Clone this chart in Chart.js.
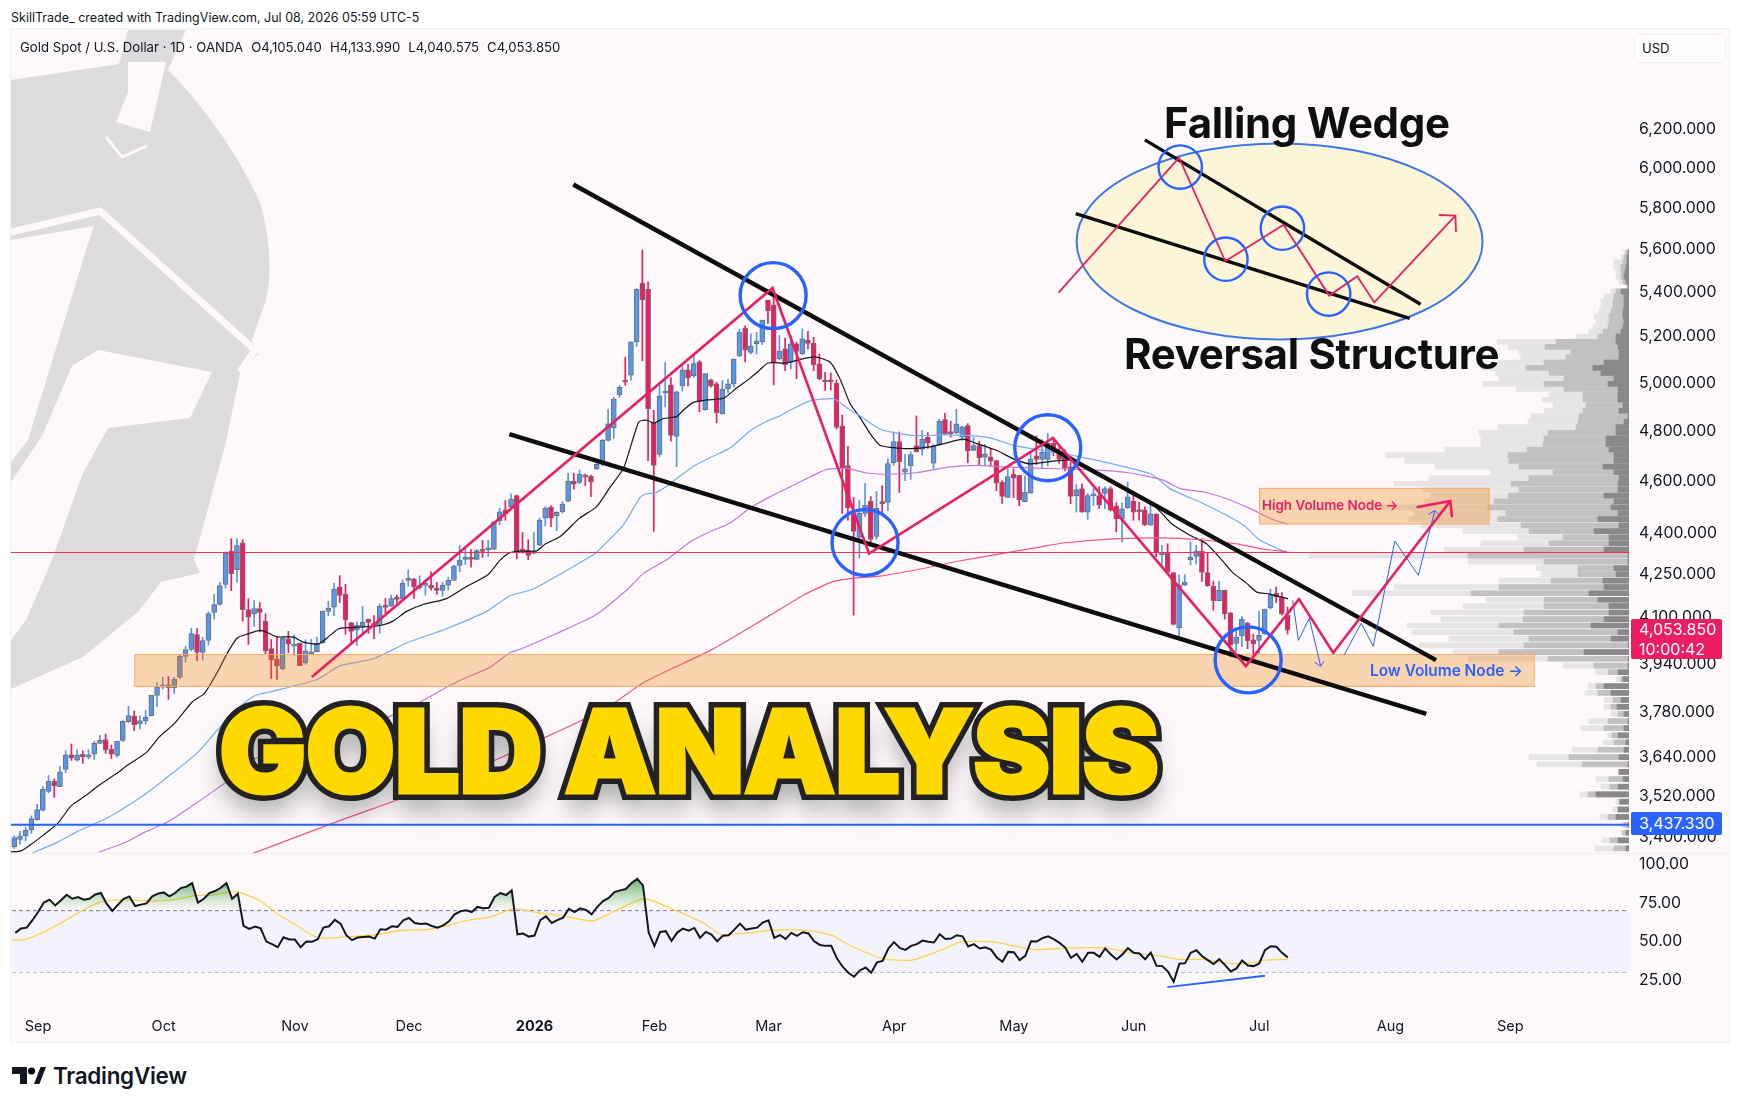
<!DOCTYPE html>
<html>
<head>
<meta charset="utf-8">
<title>Gold Analysis</title>
<script src="https://cdn.jsdelivr.net/npm/chart.js@4"></script>
<style>
    html, body { margin: 0; padding: 0; background: #ffffff; }
    body { width: 1738px; height: 1108px; position: relative; overflow: hidden; font-family: Inter, sans-serif; color: #131722; }
    #pane { position: absolute; left: 11px; top: 29px; width: 1718px; height: 1013px; background: #fdf9fb; box-shadow: 0 0 0 1px #f0f0f0; }
    #helmet { position: absolute; left: 0; top: 0; }
    canvas { position: absolute; left: 11px; }
    #mainChart { top: 29px; }
    #rsiChart { top: 854px; border-top: 0; }
    #split { position: absolute; left: 11px; top: 853px; width: 1718px; height: 1px; background: #efedee; }
    .label { position: absolute; white-space: nowrap; transform: translateY(-50%); line-height: 1; }
    .label span { margin-left: 8px; }
    .big { font-weight: 700; color: #0f0f0f; font-size: 42px; letter-spacing: -0.3px; }
    .tag { position: absolute; left: 1631px; width: 91px; color: #fff; font-size: 16px; box-sizing: border-box; padding-left: 8px; border-radius: 2px; }
    #gold, #gold::after { font-family: Inter, sans-serif; font-weight: 900; font-size: 116px; line-height: 106px; letter-spacing: -1px; white-space: nowrap; }
    #gold { position: absolute; left: 219px; top: 698px; color: #222222; -webkit-text-stroke: 14px #222222; text-shadow: 0 16px 26px rgba(0,0,0,0.38); }
    #gold::after { content: attr(data-text); position: absolute; left: 0; top: 0; color: #ffd900; -webkit-text-stroke: 3px #ffd900; text-shadow: none; }
    #usd { position: absolute; left: 1634px; top: 34px; width: 92px; height: 29px; border: 1px solid #f0eef0; border-radius: 5px; box-sizing: border-box; background: #fefcfd; font-size: 13px; line-height: 27px; padding-left: 7px; }
</style>
</head>
<body>
<div id="pane"></div>
<svg id="helmet" width="1738" height="1108" viewBox="0 0 1738 1108">
    <defs><clipPath id="paneClip"><rect x="11" y="30" width="1618" height="823"/></clipPath></defs>
    <g clip-path="url(#paneClip)">
        <path fill="#dedbde" d="M11,80 L119,64 L128,30 L186,30 L168,70 L178,80 Q232,140 261,205 Q275,260 266,300 L252,340 L258,354 L240,374 L225,446 L194,560 L200,573 L161,582 L139,611 L83,657 L11,689 Z"/>
        <path fill="#fdf9fb" d="M128,62 L166,62 L150,132 L116,122 L128,92 Z"/>
        <path fill="none" stroke="#fdf9fb" stroke-width="3" d="M106,137 L122,157 L147,146"/>
        <path fill="#fdf9fb" d="M11,240 L94,226 L86,250 L28,440 L11,462 Z"/>
        <path fill="none" stroke="#fdf9fb" stroke-width="7" d="M11,232 L100,211 L255,350 L240,372"/>
        <path fill="#fdf9fb" d="M72,366 L98,350 L212,372 L190,418 L108,428 L82,475 L52,560 L26,620 L11,640 L11,482 L42,436 Z"/>
    </g>
</svg>
<canvas id="mainChart" width="1718" height="825"></canvas>
<div id="split"></div>
<canvas id="rsiChart" width="1718" height="188"></canvas>

<div class="label" style="left:11px;top:17.5px;font-size:12.5px;">SkillTrade_ created with TradingView.com, Jul 08, 2026 05:59 UTC-5</div>
<div class="label" style="left:20px;top:48px;font-size:13.2px;">Gold Spot / U.S. Dollar · 1D · OANDA<span>O4,105.040</span><span>H4,133.990</span><span>L4,040.575</span><span>C4,053.850</span></div>
<div id="usd">USD</div>
<div class="label big" style="left:1164px;top:123px;">Falling Wedge</div>
<div class="label big" style="left:1124px;top:354px;">Reversal Structure</div>
<div class="label" style="left:1262px;top:506px;font-size:13.4px;font-weight:600;color:#e91e63;">High Volume Node →</div>
<div class="label" style="left:1370px;top:671px;font-size:15.4px;font-weight:600;color:#2962ff;">Low Volume Node →</div>
<div id="gold" data-text="GOLD ANALYSIS">GOLD ANALYSIS</div>
<div class="tag" style="top:619px;height:40px;background:#ec1e63;line-height:20px;">4,053.850<br>10:00:42</div>
<div class="tag" style="top:812px;height:23px;background:#2962ff;line-height:23px;">3,437.330</div>
<svg style="position:absolute;left:12px;top:1067px;" width="34" height="18" viewBox="0 0 34 18">
    <path fill="#131722" d="M0,0 H15 V17 H8 V7 H0 Z"/><circle cx="19.5" cy="4" r="3.6"/><path fill="#131722" d="M22,17 L28.5,0 H34 L27.5,17 Z"/>
</svg>
<div class="label" style="left:53px;top:1076px;font-size:22.5px;font-weight:600;letter-spacing:-0.3px;">TradingView</div>

<script>
// bar values, one per daily candle
const openPrices = [
    3374,3395,3405,3422,3452,3480,3536,3566,3550,3602,
    3647,3631,3649,3640,3649,3683,3695,3664,3645,3692,
    3751,3770,3744,3754,3770,3836,3863,3870,3860,3895,
    3965,3988,4039,3978,4019,4115,4143,4214,4335,4267,
    4366,4125,4111,4129,4085,3991,3957,3923,4024,3999,
    4010,3943,3973,3981,4010,4119,4134,4205,4180,4080,
    4054,4068,4092,4078,4071,4137,4137,4169,4162,4229,
    4233,4203,4211,4212,4201,4193,4212,4229,4283,4305,
    4309,4305,4341,4340,4342,4448,4490,4501,4544,4342,
    4339,4327,4357,4458,4500,4466,4482,4523,4599,4595,
    4622,4620,4647,4669,4762,4812,4949,5012,5033,5177,
    5441,5413,4832,4706,4957,4992,4778,4987,5056,5030,
    5090,4888,5013,4996,4871,4975,4996,5115,5238,5131,
    5168,5177,5364,5342,5102,5146,5087,5168,5124,5185,
    5171,5081,5013,5010,4999,4821,4661,4473,4386,4476,
    4522,4389,4516,4518,4673,4757,4635,4660,4741,4727,
    4775,4671,4744,4847,4797,4792,4775,4822,4722,4741,
    4695,4696,4681,4596,4537,4627,4623,4521,4553,4700,
    4686,4686,4750,4714,4705,4656,4544,4571,4481,4543,
    4544,4552,4571,4505,4455,4497,4523,4485,4490,4432,
    4474,4322,4327,4257,4062,4212,4304,4316,4335,4257,
    4208,4157,4193,4114,4009,4034,4078,4021,4019,4040,
    4131,4183,4169,4105.04
];
const highPrices = [
    3405,3418,3430,3463,3497,3550,3584,3573,3612,3660,
    3681,3663,3660,3663,3690,3708,3712,3678,3690,3754,
    3801,3785,3770,3788,3836,3877,3896,3898,3895,3971,
    3999,4060,4060,4030,4117,4179,4222,4332,4381,4381,
    4377,4164,4157,4150,4111,4022,4031,4031,4050,4037,
    4010,4021,4023,4030,4120,4154,4218,4246,4215,4080,
    4083,4137,4092,4104,4145,4164,4176,4176,4230,4266,
    4236,4245,4230,4260,4222,4223,4240,4284,4356,4345,
    4341,4341,4375,4375,4444,4496,4525,4551,4546,4404,
    4377,4404,4458,4502,4506,4483,4521,4631,4631,4644,
    4628,4624,4687,4766,4889,4939,4989,5109,5177,5416,
    5597,5447,4885,4989,5088,5022,4965,5082,5079,5117,
    5095,5039,5016,5003,5010,5016,5102,5233,5248,5212,
    5219,5273,5364,5375,5205,5193,5205,5175,5234,5223,
    5197,5124,5045,5042,5013,4865,4738,4537,4527,4592,
    4540,4560,4582,4688,4796,4796,4706,4716,4862,4803,
    4794,4746,4848,4872,4840,4889,4820,4830,4775,4758,
    4746,4730,4682,4602,4649,4649,4623,4620,4716,4780,
    4765,4790,4775,4735,4725,4675,4587,4590,4552,4571,
    4578,4578,4578,4517,4516,4596,4559,4519,4501,4513,
    4474,4356,4362,4257,4249,4249,4370,4356,4380,4328,
    4225,4225,4194,4116,4061,4101,4081,4040,4120,4127,
    4197,4205,4185,4133.99
];
const lowPrices = [
    3369,3381,3391,3412,3450,3477,3531,3518,3550,3592,
    3630,3628,3621,3635,3633,3682,3652,3635,3640,3688,
    3749,3723,3728,3743,3769,3800,3856,3823,3842,3891,
    3945,3983,3950,3952,4003,4092,4141,4201,4192,4222,
    4085,4005,4067,4048,3974,3891,3888,3919,3977,3968,
    3934,3938,3971,3980,4009,4104,4104,4150,4040,4010,
    4002,4037,4043,4025,4043,4113,4136,4148,4157,4208,
    4165,4196,4176,4194,4179,4173,4194,4228,4260,4286,
    4276,4303,4312,4316,4341,4432,4450,4498,4306,4328,
    4304,4326,4355,4429,4426,4411,4477,4520,4569,4590,
    4583,4540,4646,4660,4759,4770,4939,4989,5010,5157,
    5095,4681,4408,4696,4899,4759,4657,4965,4987,5023,
    4878,4885,4982,4833,4869,4958,4982,5112,5090,5124,
    5124,5165,5258,4992,5098,5052,5060,5017,5121,5146,
    5052,5013,4968,4970,4808,4476,4450,4106,4309,4464,
    4354,4378,4476,4486,4662,4556,4602,4607,4715,4703,
    4730,4649,4741,4786,4775,4789,4762,4672,4721,4664,
    4661,4659,4563,4514,4536,4536,4505,4520,4553,4665,
    4650,4660,4700,4670,4640,4513,4481,4481,4453,4506,
    4494,4494,4485,4406,4369,4494,4450,4450,4430,4430,
    4314,4278,4253,4072,4027,4210,4284,4288,4225,4207,
    4123,4156,4092,3964,3981,3998,3991,3964,3973,4040,
    4127,4150,4106,4040.575
];
const closePrices = [
    3400,3405,3422,3455,3482,3542,3566,3553,3595,3647,
    3638,3647,3641,3647,3683,3692,3663,3649,3690,3752,
    3771,3742,3755,3765,3836,3863,3870,3860,3888,3965,
    3988,4042,3978,4018,4111,4143,4210,4328,4253,4355,
    4125,4099,4129,4115,3983,3953,3933,4026,4006,4006,
    3934,3983,3980,4008,4120,4131,4198,4175,4089,4050,
    4071,4081,4081,4069,4137,4133,4164,4161,4218,4233,
    4206,4206,4212,4201,4193,4212,4229,4280,4302,4308,
    4305,4337,4334,4342,4444,4482,4475,4531,4328,4336,
    4319,4331,4451,4496,4458,4480,4511,4600,4588,4627,
    4616,4596,4666,4762,4829,4932,4981,5003,5177,5413,
    5364,4892,4662,4945,4962,4782,4962,5056,5021,5082,
    4920,5039,4987,4875,4974,4996,5102,5220,5141,5158,
    5181,5273,5314,5085,5137,5078,5168,5135,5190,5170,
    5077,5017,5004,5004,4815,4649,4497,4408,4476,4507,
    4378,4495,4513,4669,4757,4677,4648,4705,4717,4767,
    4751,4741,4839,4789,4789,4829,4817,4720,4741,4692,
    4708,4679,4592,4541,4618,4612,4527,4557,4687,4686,
    4714,4750,4714,4686,4650,4541,4567,4481,4544,4544,
    4508,4571,4488,4455,4493,4539,4481,4483,4432,4474,
    4328,4326,4258,4074,4213,4223,4312,4335,4257,4210,
    4157,4193,4110,4003,4030,4092,4017,4007,4036,4127,
    4178,4169,4110,4053.85
];

// moving averages, sampled at the bends
const maBlackBars = [-0.6,1.2,2.9,5.3,7.6,9.9,12.3,14.9,18.1,19.8,23.1,25.4,28,31.2,33.3,35.6,37.4,39.1,40.9,43,44.5,46,48.9,50.6,53.3,55,56.8,58.8,61.7,64.3,66.4,68.7,71.6,75.7,78.9,83,85,86.8,88.6,91.5,93,95.6,99,102,104.3,106.7,108.1,109.3,109.9,111,112,113.7,116,117.2,118.9,121.3,124.2,126.5,128.9,130.6,132,135.3,138.2,140.3,142.9,144.6,146.4,148.1,149.9,151.6,153.4,156.9,160.4,163.3,166.2,168.6,172,175,177.9,182,185.5,188.7,190.5,194.8,198.9,201,202.7,205.9,208.8,211.5,213.5,215.8,217.6,219.9,223.1];
const maBlackValues = [3359,3362,3380,3410,3441,3492,3521,3555,3592,3615,3654,3703,3745,3815,3842,3913,3979,4028,4041,4053,4044,4031,4030,4013,4007,4031,4059,4063,4066,4071,4086,4119,4143,4164,4203,4250,4300,4329,4335,4336,4361,4389,4458,4502,4575,4651,4749,4835,4843,4843,4832,4851,4859,4886,4918,4928,4935,4978,5020,5056,5085,5085,5104,5111,5088,5017,4912,4856,4789,4742,4734,4729,4736,4752,4767,4749,4722,4688,4668,4679,4682,4636,4616,4571,4520,4476,4437,4394,4362,4302,4255,4219,4187,4180,4163];
const maBlueBars = [3.2,7.6,11.1,14.2,16.9,22.8,28,32.1,35.6,39.1,42,45,53,57,62.9,68.7,75.7,82.7,86.8,90.8,100,102,106.7,109.6,110.8,112.2,114.3,118.9,122.4,125.4,128.9,131.8,134.1,135.9,139.4,143.5,145.8,148.1,151.6,154.5,158,162.7,167.4,170.9,175,177.9,183,189.6,199,202.4,204.8,208.3,212.3,215.3,218.2,222.9];
const maBlueValues = [3356,3387,3418,3441,3463,3526,3595,3654,3725,3792,3834,3848,3888,3933,3957,4010,4059,4119,4174,4197,4304,4331,4434,4537,4551,4554,4581,4658,4698,4732,4801,4840,4862,4886,4924,4933,4896,4862,4808,4791,4781,4784,4781,4772,4742,4730,4712,4682,4629,4571,4546,4513,4469,4431,4375,4329];
const maPurpleBars = [14.9,19.3,22.8,26.9,31,36.8,41.4,43.8,52.9,67.5,76.2,78.4,83.3,86.8,88.6,94.7,102,107.4,110.2,114.3,118.4,121.9,125.4,128.9,132.4,135.9,139.4,142.3,145.8,149.3,153.4,158,163.9,168.6,173.2,177.9,189.6,195.4,201.2,204.2,208.3,212.3,216.4,220.5,223.1];
const maPurpleValues = [3359,3385,3415,3446,3491,3560,3632,3642,3690,3780,3867,3888,3928,3977,3989,4040,4109,4197,4254,4304,4370,4408,4440,4497,4540,4578,4617,4646,4650,4632,4627,4633,4656,4662,4656,4652,4643,4632,4604,4571,4558,4532,4495,4452,4435];
const maPinkBars = [41.7,55.8,70.4,81,90.8,103.4,110.3,121.9,132.4,138.2,143.5,147.5,151.6,158,165,173.2,179.6,183.7,192.5,201.3,207.1,214.1,218.8,222.9];
const maPinkValues = [3354,3442,3531,3606,3684,3791,3879,3985,4106,4176,4225,4238,4244,4267,4297,4327,4350,4365,4380,4384,4378,4362,4342,4333];

// volume profile rows on the right edge: price level and stacked lengths
const volumePrices = [5584,5561,5539,5516,5494,5471,5448,5426,5403,5381,5358,5335,5313,5290,5268,5245,5222,5200,5177,5155,5132,5109,5087,5064,5042,5019,4996,4974,4951,4929,4906,4883,4861,4838,4816,4793,4770,4748,4725,4703,4680,4657,4635,4612,4590,4567,4544,4522,4499,4477,4454,4431,4409,4386,4364,4341,4318,4296,4273,4251,4228,4205,4183,4160,4138,4115,4092,4070,4047,4025,4002,3979,3957,3934,3912,3889,3866,3844,3821,3799,3776,3753,3731,3708,3686,3663,3640,3618,3595,3573,3550,3527,3505,3482,3460,3437,3414,3392,3369,3347];
const volumeLight = [5,8,15,15,13,13,10,3,18,25,28,28,30,35,33,36,40,53,132,121,110,108,131,148,133,130,146,113,80,87,76,85,98,101,131,150,148,148,184,243,224,194,138,200,235,206,198,205,251,215,221,208,166,111,148,185,320,161,93,88,130,235,277,143,166,198,188,222,217,180,210,176,161,66,33,13,41,44,25,25,18,40,48,21,26,57,100,92,10,33,28,49,13,16,29,8,8,27,34,5];
const volumeMid = [3,5,6,8,8,8,6,1,13,15,16,16,18,20,20,21,26,31,73,84,58,63,85,103,80,65,85,65,46,46,43,46,50,51,53,81,85,86,102,121,120,110,76,100,118,110,121,135,141,123,131,108,100,66,80,105,161,85,51,51,78,130,158,85,85,105,106,130,115,100,105,130,81,35,21,8,33,31,16,18,11,21,25,17,15,31,60,47,10,20,19,41,10,11,21,5,6,19,15,3];
const volumeDark = [1,2,2,3,4,5,3,1,8,5,5,5,6,6,5,6,8,13,13,11,10,10,25,36,28,15,21,11,11,11,6,10,1,5,13,13,23,23,20,15,15,26,15,10,11,11,25,15,18,11,31,10,35,20,20,25,1,1,15,13,26,25,40,31,20,20,25,38,11,18,1,45,1,1,11,6,25,18,8,12,5,1,5,11,3,5,10,1,10,6,11,33,9,11,13,1,3,11,3,1];

// price axis and time axis
const priceTicks = [6200,6000,5800,5600,5400,5200,5000,4800,4600,4400,4250,4100,3940,3780,3640,3520,3400];
const rsiTicks = [100,75,50,25];
const rsiLevels = [70,50,30];
const timeTickBars = [4,26,49,69,91,112,132,154,175,196,218,241,262];
const timeTickLabels = ['Sep','Oct','Nov','Dec','2026','Feb','Mar','Apr','May','Jun','Jul','Aug','Sep'];
const redLevel = 4330;
const blueLevel = 3437.33;

// RSI, one value per candle, and its smoothing line sampled at the bends
const rsiValues = [
    55.6,58.4,59.0,63.8,69.1,75.2,77.1,73.4,76.7,80.3,
    77.7,78.8,77.1,77.7,80.5,81.4,74.5,69.8,73.9,77.7,
    79.2,73.0,73.9,74.7,79.2,81.0,81.8,79.2,81.4,84.6,
    85.5,87.8,75.2,77.5,81.4,82.7,84.8,87.8,77.7,81.0,
    60.1,58.2,59.7,58.6,50.0,48.3,46.3,52.8,51.3,51.3,
    46.3,50.0,49.8,51.5,59.0,59.9,64.0,61.6,54.1,50.9,
    52.6,53.0,53.2,51.9,58.0,57.7,59.9,59.5,63.8,65.3,
    62.0,61.4,61.6,60.1,59.0,60.5,63.1,67.6,69.6,70.2,
    69.1,72.4,71.5,71.9,78.8,81.4,80.1,83.1,54.7,55.2,
    53.2,53.9,63.8,66.3,62.0,63.8,65.5,71.1,69.1,71.5,
    70.4,67.6,72.4,76.2,78.2,82.0,83.1,84.0,87.8,90.6,
    86.3,55.8,47.0,56.2,56.7,50.4,55.8,58.4,57.1,58.8,
    52.4,56.2,54.5,50.2,53.7,54.1,57.7,61.6,57.7,58.4,
    59.0,62.3,63.8,52.4,54.1,51.7,55.6,53.7,56.0,55.2,
    50.2,47.8,47.2,47.2,39.0,33.7,29.8,27.2,31.3,33.2,
    29.8,36.5,37.5,45.5,49.6,45.9,44.6,47.2,48.3,50.6,
    49.8,49.4,54.7,51.7,51.9,54.1,53.4,46.8,48.3,45.5,
    46.3,44.8,39.7,36.9,43.3,43.1,38.0,40.8,50.2,50.0,
    52.2,53.4,51.5,49.1,46.1,39.5,42.0,36.9,42.7,42.7,
    40.1,45.5,41.6,38.4,41.6,45.7,42.7,42.3,38.6,42.9,
    34.3,34.1,30.6,24.0,35.6,36.0,42.7,44.4,40.5,38.0,
    35.4,38.6,34.7,30.6,32.6,37.7,34.5,34.1,35.8,44.4,
    47.0,46.6,42.7,39.7
];
const rsiMaBars = [-0.58,1.6,3.8,7.8,11.8,15,19,23.4,28.5,31.4,34.3,37.9,39,43,45.9,48.8,53,57.5,63.3,67.7,71.3,74.9,79.3,83.3,87.3,90.9,96,101.1,104.7,110.2,115.7,120.8,123.7,129.5,132.4,139,143,146.2,152,157.1,162.2,165.8,171.3,175.3,178.9,184,190.9,195.6,201,203.9,207.9,213,215.9,218.8,223];
const rsiMaValues = [51.1,51.3,54.1,61.6,70.2,75.6,77.1,76.2,77.5,79.7,80.1,82.1,82.1,76.2,68,61.6,52.4,53,54.5,57.3,57.5,59.5,63.8,65.9,71.3,69,66.5,63.3,69.1,77.7,70.2,61.6,54.5,56,57.3,57.1,54.1,47.6,39,38,44.4,49.8,49.8,47,44.8,45.7,45.9,42.7,40.5,38.4,38.4,35.8,35.8,38,38.4];
const divergenceBars = [201.9,219];
const divergenceValues = [20.5,27.9];

// drawings on the chart, in bar number and price
const boxes = [
    { bars: [21.1, 266.2], prices: [3971, 3865] },
    { bars: [218.1, 258.3], prices: [4572, 4436] }
];
const insetEllipse = { bar: 221.6, price: 5637 };
const trendLines = [
    { bars: [97.9, 249], prices: [5916, 3952], color: '#0d0d0d', width: 4.4 },
    { bars: [86.7, 247.3], prices: [4787, 3776], color: '#0d0d0d', width: 4.4 },
    { bars: [198, 246.3], prices: [6144, 5345], color: '#0d0d0d', width: 3.4 },
    { bars: [185.9, 244.4], prices: [5772, 5281], color: '#0d0d0d', width: 3.4 },
    { bars: [223.9, 224.9, 226.8, 228.8], prices: [4158, 4019, 4095, 3932], color: '#2962ff', width: 1 },
    { bars: [227.7, 228.8, 229.4], prices: [3945, 3932, 3949], color: '#2962ff', width: 1 },
    { bars: [232.9, 235.9, 238, 241.8, 245.9, 248.8], prices: [3969, 4078, 3999, 4372, 4247, 4487], color: '#2962ff', width: 1 },
    { bars: [247.7, 248.8, 249.7], prices: [4472, 4487, 4467], color: '#2962ff', width: 1 },
    { bars: [52.1, 132.8, 149.7, 181.9, 215.7, 225, 231, 251.5], prices: [3896, 5419, 4326, 4772, 3932, 4162, 3977, 4523], color: '#e91e63', width: 2.6 },
    { bars: [245.6, 251.5, 251.8], prices: [4499, 4523, 4462], color: '#e91e63', width: 2.6 },
    { bars: [182.9, 204, 212.1, 222.3, 230.3, 235.2, 238.2, 252.4], prices: [5398, 6052, 5543, 5718, 5384, 5473, 5353, 5762], color: '#e91e63', width: 1.8 },
    { bars: [249.5, 252.4, 252.5], prices: [5765, 5762, 5682], color: '#e91e63', width: 1.8 }
];
const bigCircles = [
    { bar: 132.9, price: 5384 }, { bar: 149, price: 4367 }, { bar: 181, price: 4732 }, { bar: 216.1, price: 3953 }
];
const smallCircles = [
    { bar: 204.2, price: 6004 }, { bar: 212.2, price: 5553 }, { bar: 222.1, price: 5701 }, { bar: 230.2, price: 5391 }
];

const upColor = '#5596ee';
const downColor = '#e91e63';
const barStart = -0.578;
const barEnd = 282.8;

function toPoints(bars, values) {
    return bars.map((b, i) => ({ x: b, y: values[i] }));
}

function maLine(bars, values, color) {
    return { type: 'line', data: toPoints(bars, values), borderColor: color, borderWidth: 1.2, pointRadius: 0, tension: 0.2, order: 5, xAxisID: 'x', yAxisID: 'y' };
}

function levelLine(value, color, width) {
    return { type: 'line', data: [{ x: barStart, y: value }, { x: barEnd, y: value }], borderColor: color, borderWidth: width, pointRadius: 0, order: 4, xAxisID: 'x', yAxisID: 'y' };
}

function volumeBars(values, color, order) {
    return {
        type: 'bar', indexAxis: 'y', xAxisID: 'volX', yAxisID: 'y', grouped: false, barThickness: 5, order: order, backgroundColor: color,
        data: volumePrices.map((p, i) => ({ x: values[i], y: p }))
    };
}

const bars = openPrices.map((o, i) => i);
const candleColors = bars.map(i => closePrices[i] >= openPrices[i] ? upColor : downColor);

// trend lines, boxes and circles are placed through the scales
const drawingsPlugin = {
    id: 'drawings',
    afterDatasetsDraw(chart) {
        const ctx = chart.ctx;
        const xs = chart.scales.x;
        const ys = chart.scales.y;
        ctx.save();
        boxes.forEach(b => {
            let x0 = xs.getPixelForValue(b.bars[0]), x1 = xs.getPixelForValue(b.bars[1]);
            let y0 = ys.getPixelForValue(b.prices[0]), y1 = ys.getPixelForValue(b.prices[1]);
            ctx.fillStyle = 'rgba(245, 124, 0, 0.3)';
            ctx.strokeStyle = '#f7ac60';
            ctx.lineWidth = 1;
            ctx.fillRect(x0, y0, x1 - x0, y1 - y0);
            ctx.strokeRect(x0, y0, x1 - x0, y1 - y0);
        });
        ctx.beginPath();
        ctx.ellipse(xs.getPixelForValue(insetEllipse.bar), ys.getPixelForValue(insetEllipse.price), 203, 98, 0, 0, Math.PI * 2);
        ctx.fillStyle = '#fdf5d8';
        ctx.fill();
        ctx.strokeStyle = '#3d78e6';
        ctx.lineWidth = 2;
        ctx.stroke();
        ctx.lineJoin = 'miter';
        trendLines.forEach(l => {
            ctx.beginPath();
            l.bars.forEach((b, i) => ctx.lineTo(xs.getPixelForValue(b), ys.getPixelForValue(l.prices[i])));
            ctx.strokeStyle = l.color;
            ctx.lineWidth = l.width;
            ctx.stroke();
        });
        ctx.strokeStyle = '#2962ff';
        ctx.lineWidth = 3.4;
        bigCircles.forEach(c => {
            ctx.beginPath();
            ctx.arc(xs.getPixelForValue(c.bar), ys.getPixelForValue(c.price), 33, 0, Math.PI * 2);
            ctx.stroke();
        });
        ctx.lineWidth = 2.4;
        smallCircles.forEach(c => {
            ctx.beginPath();
            ctx.arc(xs.getPixelForValue(c.bar), ys.getPixelForValue(c.price), 21.7, 0, Math.PI * 2);
            ctx.stroke();
        });
        ctx.restore();
    }
};

function fixRightAxis(axis) {
    axis.width = 100;
    axis.paddingTop = 0;
    axis.paddingBottom = 0;
}

const tickFont = { family: 'Inter, sans-serif', size: 15.8 };

Chart.defaults.animation = false;

const mainChart = new Chart(document.getElementById('mainChart'), {
    type: 'bar',
    data: {
        datasets: [
            volumeBars(volumeLight, '#e6e4e6', 12),
            volumeBars(volumeMid, '#c2c0c2', 11),
            volumeBars(volumeDark, '#8a888b', 10),
            {
                label: 'Wicks', xAxisID: 'x', yAxisID: 'y', grouped: false, barThickness: 1, order: 9,
                data: bars.map(i => ({ x: i, y: [lowPrices[i], highPrices[i]] })),
                backgroundColor: candleColors
            },
            {
                label: 'Bodies', xAxisID: 'x', yAxisID: 'y', grouped: false, barThickness: 5, order: 8, minBarLength: 2,
                data: bars.map(i => ({ x: i, y: [openPrices[i], closePrices[i]] })),
                backgroundColor: candleColors, borderColor: '#707074', borderWidth: 1, borderSkipped: false
            },
            maLine(maPinkBars, maPinkValues, '#f0558d'),
            maLine(maPurpleBars, maPurpleValues, '#c07ad6'),
            maLine(maBlueBars, maBlueValues, '#74adf2'),
            maLine(maBlackBars, maBlackValues, '#131722'),
            levelLine(redLevel, '#ee3344', 1),
            levelLine(blueLevel, '#2962ff', 2)
        ]
    },
    options: {
        responsive: false,
        layout: { padding: 0 },
        plugins: { legend: { display: false }, tooltip: { enabled: false } },
        scales: {
            x: { type: 'linear', display: false, offset: false, min: barStart, max: barEnd },
            volX: { type: 'linear', display: false, offset: false, min: 0, max: 1618, reverse: true },
            y: {
                type: 'logarithmic', position: 'right', offset: false, min: 3353, max: 6750,
                grid: { display: false, drawTicks: false }, border: { display: false },
                afterBuildTicks: axis => { axis.ticks = priceTicks.map(v => ({ value: v })); },
                afterFit: fixRightAxis,
                ticks: {
                    autoSkip: false, padding: 10, color: '#131722', font: tickFont,
                    callback: v => v.toLocaleString('en-US', { minimumFractionDigits: 3, maximumFractionDigits: 3 })
                }
            }
        }
    },
    plugins: [drawingsPlugin]
});

const rsiDatasets = rsiLevels.map((lv, k) => ({
    type: 'line', data: [{ x: barStart, y: lv }, { x: 282.8, y: lv }], pointRadius: 0, borderWidth: 1, borderDash: [4, 3],
    borderColor: k === 1 ? '#b2b5be' : '#787b86', order: 6,
    fill: k === 0 ? { target: { value: rsiLevels[2] }, above: '#f4f3fd', below: '#f4f3fd' } : false
}));

const rsiChart = new Chart(document.getElementById('rsiChart'), {
    type: 'line',
    data: {
        datasets: [
            ...rsiDatasets,
            { data: toPoints(rsiMaBars, rsiMaValues), borderColor: '#f7d54a', borderWidth: 1.3, pointRadius: 0, tension: 0.2, order: 3 },
            {
                data: toPoints(bars, rsiValues), borderColor: '#131722', borderWidth: 2, pointRadius: 0, order: 2,
                fill: { target: { value: rsiLevels[0] }, above: 'rgba(76, 175, 80, 0.3)', below: 'rgba(0, 0, 0, 0)' }
            },
            { data: toPoints(divergenceBars, divergenceValues), borderColor: '#2962ff', borderWidth: 2, pointRadius: 0, order: 1 }
        ]
    },
    options: {
        responsive: false,
        layout: { padding: 0 },
        plugins: { legend: { display: false }, tooltip: { enabled: false } },
        scales: {
            x: {
                type: 'linear', min: barStart, max: barEnd,
                grid: { display: false, drawTicks: false }, border: { display: false },
                afterBuildTicks: axis => { axis.ticks = timeTickBars.map(v => ({ value: v })); },
                afterFit: axis => { axis.height = 32; axis.paddingLeft = 0; axis.paddingRight = 0; },
                ticks: {
                    autoSkip: false, maxRotation: 0, padding: 8, color: '#131722',
                    font: ctx => ({ family: 'Inter, sans-serif', size: 14.5, weight: ctx.index === 4 ? 'bold' : 'normal' }),
                    callback: (v, i) => timeTickLabels[i]
                }
            },
            y: {
                type: 'linear', position: 'right', min: 5.7, max: 106,
                grid: { display: false, drawTicks: false }, border: { display: false },
                afterBuildTicks: axis => { axis.ticks = rsiTicks.map(v => ({ value: v })); },
                afterFit: fixRightAxis,
                ticks: {
                    autoSkip: false, padding: 10, color: '#131722', font: tickFont,
                    callback: v => v.toFixed(2)
                }
            }
        }
    }
});

// fade the RSI overbought fill from green down to nothing at the 70 line
const rsiScale = rsiChart.scales.y;
const rsiFade = rsiChart.ctx.createLinearGradient(0, rsiScale.getPixelForValue(90), 0, rsiScale.getPixelForValue(rsiLevels[0]));
rsiFade.addColorStop(0, 'rgba(56, 142, 60, 0.7)');
rsiFade.addColorStop(1, 'rgba(76, 175, 80, 0)');
rsiChart.data.datasets[4].fill.above = rsiFade;
rsiChart.update('none');
</script>
</body>
</html>
